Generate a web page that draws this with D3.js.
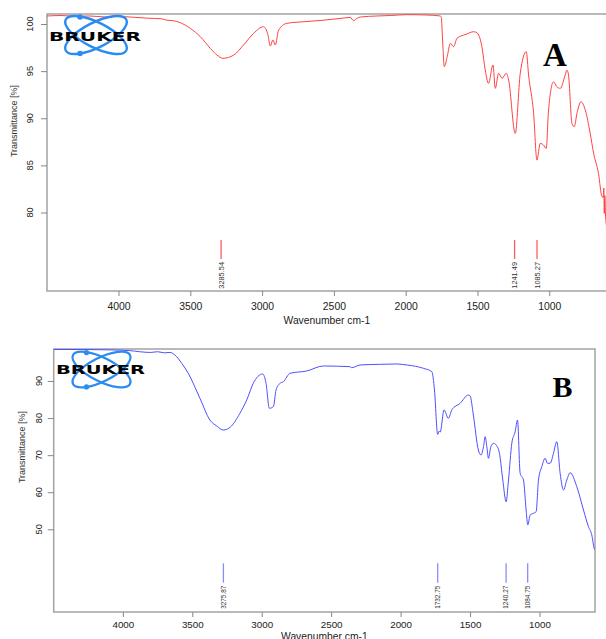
<!DOCTYPE html>
<html>
<head>
<meta charset="utf-8">
<script src="https://cdn.jsdelivr.net/npm/d3@7"></script>
<style>
	body { margin: 0; background: #fff; }
	svg { display: block; }
	svg text { font-family: "Liberation Sans", Arial, sans-serif; }
</style>
</head>
<body>
<svg id="chart" width="606" height="639"></svg>
<script>
// spectrum A (red)
var aWave  = [4498, 4400, 4300, 4200, 4100, 4000, 3900, 3800, 3700, 3662, 3618, 3570, 3500, 3430, 3361, 3314, 3272, 3198, 3129, 3059, 2990, 2960, 2943, 2925, 2908, 2885, 2827, 2700, 2574, 2450, 2386, 2363, 2340, 2316, 2200, 2107, 1991, 1850, 1759, 1752, 1743, 1731, 1710, 1689, 1666, 1643, 1580, 1527, 1504, 1469, 1446, 1423, 1392, 1376, 1353, 1329, 1299, 1283, 1237, 1202, 1160, 1144, 1109, 1086, 1063, 1040, 1021, 1005, 970, 947, 923, 889, 877, 866, 842, 826, 807, 779, 749, 715, 691, 657, 633, 625, 620, 617, 613, 608, 603]
var aTrans = [100.85, 100.9, 100.82, 100.85, 100.75, 100.8, 100.72, 100.62, 100.55, 100.4, 100.35, 100.14, 99.54, 98.65, 97.42, 96.7, 96.36, 96.7, 97.77, 99.01, 99.71, 98.9, 97.66, 98.3, 97.77, 99.36, 100.07, 100.25, 100.4, 100.6, 100.7, 100.35, 100.6, 100.74, 100.85, 100.9, 100.99, 100.95, 100.85, 100.7, 98.3, 95.47, 96.6, 97.95, 97.59, 98.48, 98.9, 99.18, 99.08, 97.59, 95.12, 93.7, 95.65, 93.17, 94.77, 94.24, 94.77, 94.06, 88.4, 94.77, 97.06, 94.59, 90.52, 85.56, 87.34, 87.15, 86.8, 90.87, 93.87, 93.34, 93.17, 94.59, 95.1, 94.59, 89.46, 89.1, 90.52, 91.75, 90.87, 88.4, 86.27, 84.15, 81.67, 81.6, 82.6, 79.9, 81.8, 79.6, 78.7]

// spectrum B (blue)
var bWave  = [4498, 4300, 4100, 3950, 3880, 3800, 3750, 3700, 3661, 3625, 3576, 3529, 3445, 3373, 3324, 3277, 3228, 3157, 3108, 3061, 2993, 2969, 2945, 2916, 2897, 2868, 2844, 2796, 2676, 2556, 2364, 2352, 2292, 2150, 2027, 1950, 1836, 1775, 1756, 1733, 1722, 1715, 1687, 1656, 1631, 1571, 1512, 1499, 1476, 1440, 1420, 1403, 1391, 1379, 1367, 1350, 1331, 1312, 1288, 1264, 1240, 1223, 1199, 1175, 1158, 1139, 1115, 1096, 1084, 1067, 1043, 1024, 1007, 983, 959, 942, 923, 899, 875, 851, 827, 803, 779, 731, 683, 647, 623, 606, 600]
var bTrans = [98.5, 98.5, 98.4, 98.2, 97.9, 97.7, 97.9, 97.6, 97.7, 97.0, 94.77, 92.08, 85.33, 79.48, 77.86, 76.78, 77.5, 81.29, 84.88, 89.38, 91.89, 89.38, 82.64, 83.07, 87.57, 89.38, 89.81, 92.08, 92.7, 94.05, 93.86, 93.59, 94.32, 94.5, 94.59, 94.3, 93.43, 92.51, 87.57, 75.6, 76.5, 76.2, 82.2, 79.94, 82.2, 83.99, 86.22, 85.95, 80.83, 71.39, 70.04, 72.28, 74.98, 72.28, 69.15, 72.28, 73.2, 72.74, 70.5, 63.3, 57.44, 63.3, 73.2, 76.33, 79.48, 65.1, 63.3, 55.21, 51.16, 53.86, 54.32, 54.75, 63.3, 66.88, 69.15, 67.8, 67.8, 70.5, 73.63, 65.1, 60.6, 63.3, 65.27, 61.49, 55.21, 50.7, 48.46, 44.88, 44.5]

var aPeaks = [3285.54, 1241.49, 1085.27]
var bPeaks = [3275.87, 1732.75, 1240.27, 1084.75]

var xTicks  = [4000, 3500, 3000, 2500, 2000, 1500, 1000]
var aYTicks = [100, 95, 90, 85, 80]
var bYTicks = [90, 80, 70, 60, 50]

var sans = "Liberation Sans, Arial, sans-serif"
var svg = d3.select("#chart")

var panels = [
	{id: "a", wave: aWave, trans: aTrans, peaks: aPeaks, yTicks: aYTicks, yDomain: [80, 100],
		left: 47, right: 606.7, top: 14, bottom: 291, y0: 212.5, y1: 24,
		line: "#ff4242", peak: "#ff5c5c", tickFont: 10.4, peakFont: 7.4,
		peakTop: 240, peakBot: 259, yLabX: 30, yTitleX: 13.5, yTitleY: 121, tickY: 309.5, titleY: 323.5,
		letter: "A", letterX: 555, letterY: 65.7, letterSize: 33,
		logo: {cx: 96, cy: 35, s: 1, tx: 95, ty: 40.7, tw: 92, fs: 12.5}},
	{id: "b", wave: bWave, trans: bTrans, peaks: bPeaks, yTicks: bYTicks, yDomain: [50, 90],
		left: 53.7, right: 595, top: 349, bottom: 612, y0: 529.3, y1: 381,
		line: "#4f4fff", peak: "#8a8aff", tickFont: 9.8, peakFont: 6.4,
		peakTop: 563.3, peakBot: 582.7, yLabX: 38.5, yTitleX: 21.5, yTitleY: 447, tickY: 628.3, titleY: 639.5,
		letter: "B", letterX: 562.5, letterY: 397.3, letterSize: 30,
		logo: {cx: 101.5, cy: 369.5, s: 0.94, tx: 100.5, ty: 374, tw: 89, fs: 11.5}}
]

panels.forEach(drawPanel)

function drawPanel(p) {
	var x = d3.scaleLinear().domain([4498, 600]).range([p.left, p.right])
	var y = d3.scaleLinear().domain(p.yDomain).range([p.y0, p.y1])

	var g = svg.append("g")

	svg.append("clipPath").attr("id", "clip-" + p.id)
		.append("rect")
		.attr("x", p.left).attr("y", p.top)
		.attr("width", p.right - p.left).attr("height", p.bottom - p.top)

	// frame
	g.append("rect")
		.attr("x", p.left).attr("y", p.top)
		.attr("width", p.right - p.left).attr("height", p.bottom - p.top)
		.attr("fill", "none")
		.attr("stroke", "#a3a3a3")
		.attr("stroke-width", 1.5)

	// x axis
	var xAxis = g.append("g")
		.attr("transform", `translate(0,${p.bottom})`)
		.call(d3.axisBottom(x).tickValues(xTicks).tickSize(5).tickSizeOuter(0).tickFormat(d3.format("d")))
	xAxis.select(".domain").remove()
	xAxis.selectAll("line").attr("stroke", "#888")
	xAxis.selectAll("text")
		.attr("y", null).attr("dy", null)
		.attr("transform", `translate(0,${p.tickY - p.bottom})`)
		.attr("fill", "#222")
		.style("font-size", p.tickFont + "px")
		.style("font-family", sans)

	g.append("text")
		.attr("x", (p.left + p.right) / 2)
		.attr("y", p.titleY)
		.attr("text-anchor", "middle")
		.attr("fill", "#222")
		.style("font-family", sans)
		.style("font-size", "10.3px")
		.text("Wavenumber cm-1")

	// y axis
	var yAxis = g.append("g")
		.attr("transform", `translate(${p.left},0)`)
		.call(d3.axisLeft(y).tickValues(p.yTicks).tickSize(6).tickSizeOuter(0))
	yAxis.select(".domain").remove()
	yAxis.selectAll("line").attr("stroke", "#888")
	yAxis.selectAll("text").remove()

	g.selectAll(".ylab")
		.data(p.yTicks)
	.enter().append("text")
		.attr("class", "ylab")
		.attr("transform", d => `translate(${p.yLabX},${y(d)}) rotate(-90)`)
		.attr("text-anchor", "middle")
		.attr("dy", "0.35em")
		.attr("fill", "#222")
		.style("font-family", sans)
		.style("font-size", "9.2px")
		.text(d => d)

	g.append("text")
		.attr("transform", `translate(${p.yTitleX},${p.yTitleY}) rotate(-90)`)
		.attr("text-anchor", "middle")
		.attr("dy", "0.35em")
		.attr("fill", "#333")
		.style("font-family", sans)
		.style("font-size", "9px")
		.text("Transmittance [%]")

	// spectrum
	var pts = p.wave.map((w, i) => [w, p.trans[i]])
	var line = d3.line()
		.x(d => x(d[0]))
		.y(d => y(d[1]))
		.curve(d3.curveMonotoneX)

	g.append("path")
		.datum(pts)
		.attr("clip-path", `url(#clip-${p.id})`)
		.attr("fill", "none")
		.attr("stroke", p.line)
		.attr("stroke-width", 1)
		.attr("d", line)

	// peak markers
	g.selectAll(".pk")
		.data(p.peaks)
	.enter().append("line")
		.attr("class", "pk")
		.attr("x1", d => x(d)).attr("x2", d => x(d))
		.attr("y1", p.peakTop).attr("y2", p.peakBot)
		.attr("stroke", p.peak)
		.attr("stroke-width", 1.3)

	g.selectAll(".pklab")
		.data(p.peaks)
	.enter().append("text")
		.attr("class", "pklab")
		.attr("transform", d => `translate(${x(d)},${p.peakBot + 3}) rotate(-90)`)
		.attr("text-anchor", "end")
		.attr("dy", "0.35em")
		.attr("fill", "#333")
		.style("font-family", sans)
		.style("font-size", p.peakFont + "px")
		.text(d => d3.format(".2f")(d))

	// logo
	var lg = g.append("g")
		.attr("transform", `translate(${p.logo.cx},${p.logo.cy}) scale(${p.logo.s})`)
	;[27, -27].forEach(function(a) {
		lg.append("ellipse")
			.attr("rx", 34).attr("ry", 12.5)
			.attr("transform", `rotate(${a})`)
			.attr("fill", "none")
			.attr("stroke", "#2a8cf2")
			.attr("stroke-width", 2.4)
	})
	;[[-16, -18], [-16, 18.5]].forEach(function(c) {
		lg.append("circle")
			.attr("cx", c[0]).attr("cy", c[1]).attr("r", 2.8)
			.attr("fill", "#2a8cf2")
	})
	g.append("text")
		.attr("x", p.logo.tx - p.logo.tw / 2)
		.attr("y", p.logo.ty)
		.attr("textLength", p.logo.tw)
		.attr("lengthAdjust", "spacingAndGlyphs")
		.attr("fill", "#000")
		.style("font-family", "DejaVu Sans, sans-serif")
		.style("font-weight", "bold")
		.style("font-size", p.logo.fs + "px")
		.text("BRUKER")

	// panel letter
	g.append("text")
		.attr("x", p.letterX)
		.attr("y", p.letterY)
		.attr("text-anchor", "middle")
		.style("font-family", "Liberation Serif, Times New Roman, serif")
		.style("font-weight", "bold")
		.style("font-size", p.letterSize + "px")
		.text(p.letter)
}
</script>
</body>
</html>
